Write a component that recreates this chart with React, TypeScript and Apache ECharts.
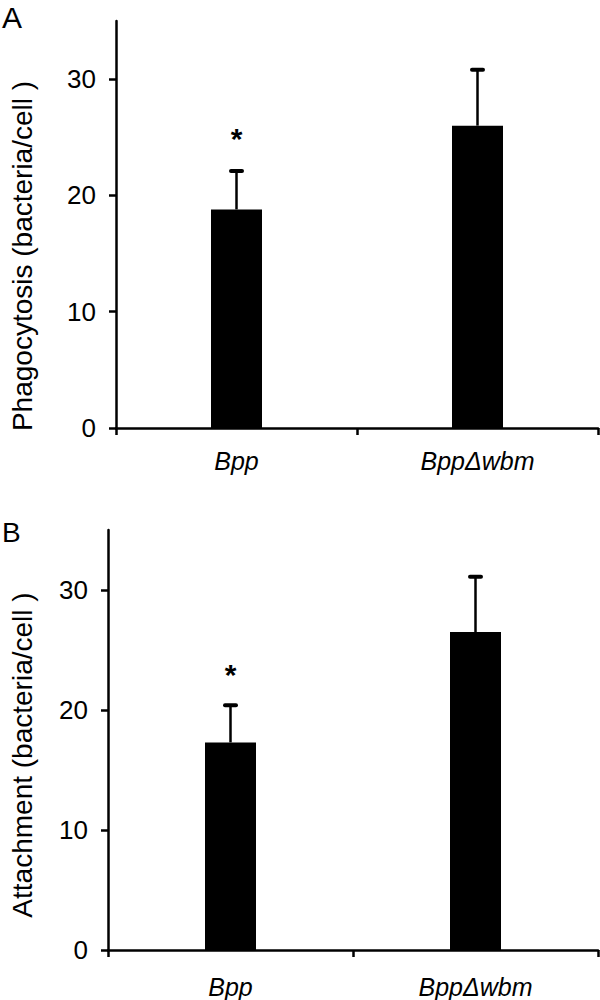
import React, { useEffect, useRef } from 'react';
import * as echarts from 'echarts';

const categories = ['Bpp', 'BppΔwbm'];
const phagocytosis = [18.8, 26.0];
const phagocytosisErrTop = [22.1, 30.8];
const phagocytosisStar: (number | null)[] = [24.9, null];
const attachment = [17.3, 26.5];
const attachmentErrTop = [20.4, 31.1];
const attachmentStar: (number | null)[] = [23.0, null];
const yTicks = [0, 10, 20, 30];
const panelLabels = ['A', 'B'];
const yTitles = ['Phagocytosis (bacteria/cell )', 'Attachment (bacteria/cell )'];

const FONT = '"Liberation Sans", Arial, sans-serif';

export default function App() {
  const ref = useRef<HTMLDivElement>(null);
  useEffect(() => {
    if (!ref.current) return;
    const chart = echarts.init(ref.current, null, { renderer: 'svg' });

    const errRender = (params: any, api: any) => {
      const x = api.value(0);
      const p0 = api.coord([x, api.value(1)]);
      const p1 = api.coord([x, api.value(2)]);
      return {
        type: 'group',
        children: [
          { type: 'line', shape: { x1: p0[0], y1: p0[1], x2: p1[0], y2: p1[1] }, style: { stroke: '#000', lineWidth: 2.5 } },
          { type: 'line', shape: { x1: p1[0] - 5.5, y1: p1[1], x2: p1[0] + 5.5, y2: p1[1] }, style: { stroke: '#000', lineWidth: 4, lineCap: 'round' } },
        ],
      };
    };
    const starRender = (params: any, api: any) => {
      const p = api.coord([api.value(0), api.value(1)]);
      return {
        type: 'text',
        x: p[0],
        y: p[1],
        style: { text: '*', fontSize: 30, fontWeight: 'bold', fontFamily: FONT, fill: '#000', textAlign: 'center', textVerticalAlign: 'middle' },
      };
    };

    const grids = [
      { left: 116, top: 21, width: 482, height: 407 },
      { left: 108, top: 530, width: 490, height: 420 },
    ];
    const labelMargins = [20, 24];
    const barsData = [phagocytosis, attachment];
    const errData = [phagocytosisErrTop, attachmentErrTop];
    const starData = [phagocytosisStar, attachmentStar];

    const xAxis = grids.map((_, gi) => ({
      type: 'category',
      gridIndex: gi,
      data: categories,
      boundaryGap: true,
      axisLine: { lineStyle: { color: '#000', width: 2.5 } },
      axisTick: { show: true, length: 7, lineStyle: { color: '#000', width: 2.5 } },
      axisLabel: { color: '#000', fontSize: 25, fontStyle: 'italic', fontFamily: FONT, margin: labelMargins[gi] },
    }));
    const yAxis = grids.map((_, gi) => ({
      type: 'value',
      gridIndex: gi,
      min: 0,
      max: 35,
      interval: 10,
      splitLine: { show: false },
      axisLine: { show: true, lineStyle: { color: '#000', width: 2.5 } },
      axisTick: { show: true, length: 7, customValues: yTicks, lineStyle: { color: '#000', width: 2.5 } },
      axisLabel: { color: '#000', fontSize: 26, fontFamily: FONT, margin: 20, customValues: yTicks },
    }));

    const series: any[] = [];
    grids.forEach((_, gi) => {
      series.push({
        type: 'bar',
        xAxisIndex: gi,
        yAxisIndex: gi,
        data: barsData[gi],
        barWidth: 51,
        itemStyle: { color: '#000' },
        z: 2,
      });
      series.push({
        type: 'custom',
        xAxisIndex: gi,
        yAxisIndex: gi,
        data: categories.map((_, i) => [i, barsData[gi][i], errData[gi][i]]),
        renderItem: errRender,
        z: 3,
      });
      series.push({
        type: 'custom',
        xAxisIndex: gi,
        yAxisIndex: gi,
        data: categories
          .map((_, i) => [i, starData[gi][i]])
          .filter((d) => d[1] !== null),
        renderItem: starRender,
        z: 3,
      });
    });

    chart.setOption({
      animation: false,
      backgroundColor: '#fff',
      grid: grids,
      xAxis,
      yAxis,
      series,
      graphic: [
        { type: 'text', left: 2, top: 2, style: { text: panelLabels[0], fontSize: 30, fontFamily: FONT, fill: '#000' } },
        { type: 'text', left: 2, top: 518, style: { text: panelLabels[1], fontSize: 28, fontFamily: FONT, fill: '#000' } },
        {
          type: 'text', x: 22, y: 256, rotation: Math.PI / 2,
          style: { text: yTitles[0], fontSize: 28, fontFamily: FONT, fill: '#000', textAlign: 'center', textVerticalAlign: 'middle' },
        },
        {
          type: 'text', x: 22, y: 755, rotation: Math.PI / 2,
          style: { text: yTitles[1], fontSize: 28, fontFamily: FONT, fill: '#000', textAlign: 'center', textVerticalAlign: 'middle' },
        },
      ],
    });
    return () => chart.dispose();
  }, []);
  return <div ref={ref} style={{ position: 'absolute', left: 0, top: 0, width: 600, height: 1000 }} />;
}
